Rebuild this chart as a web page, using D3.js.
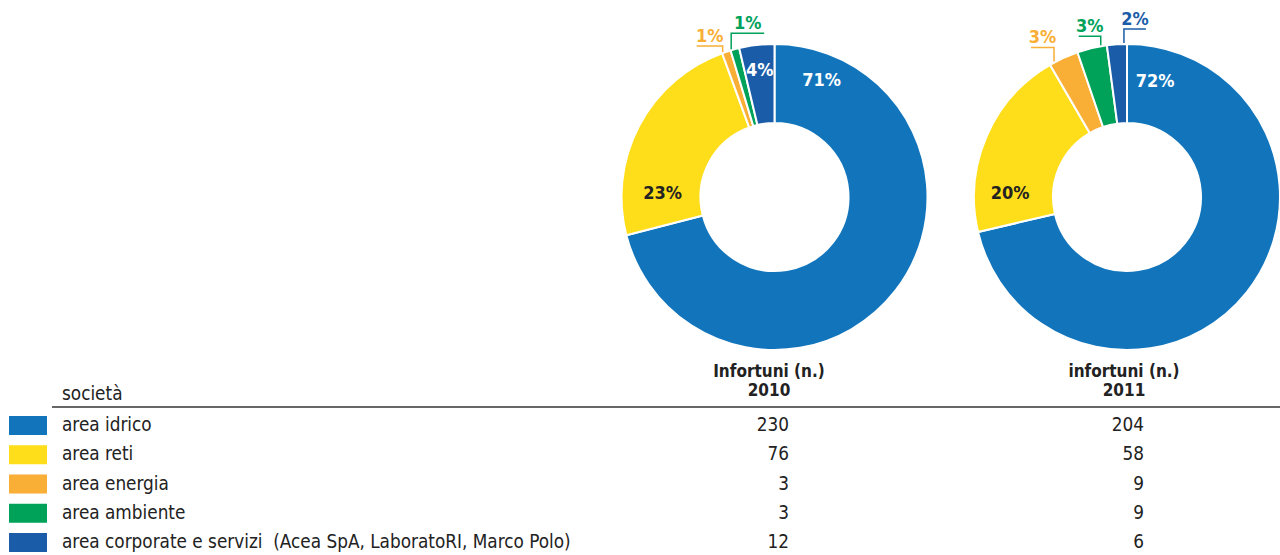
<!DOCTYPE html>
<html>
<head>
<meta charset="utf-8">
<script src="https://cdn.jsdelivr.net/npm/d3@7"></script>
<style>
  body { margin: 0; background: #fff; }
  svg { display: block; font-family: "DejaVu Sans Condensed", "Liberation Sans Narrow", sans-serif; }
  text { white-space: pre; }
</style>
</head>
<body>
<svg width="1280" height="555"></svg>
<script>

const categories = ['area idrico', 'area reti', 'area energia', 'area ambiente',
                    'area corporate e servizi  (Acea SpA, LaboratoRI, Marco Polo)'];
const colors = ['#1275bc', '#fedd1a', '#f9ae35', '#00a25a', '#1a5ca8'];
const years = ['2010', '2011'];
const headers = ['Infortuni (n.)', 'infortuni (n.)'];
const values2010 = [230, 76, 3, 3, 12];
const values2011 = [204, 58, 9, 9, 6];
const pct2010 = ['71%', '23%', '1%', '1%', '4%'];
const pct2011 = ['72%', '20%', '3%', '3%', '2%'];

// how each percentage is placed: inside the ring at an angle, or outside with a leader
// (at = where along the slice the leader starts, 0..1)
const labelStyle2010 = [
  {type: 'in', angle: 22, r: 126, fill: '#fff'},
  {type: 'in', angle: -88, r: 112, fill: '#222'},
  {type: 'out', at: 0.1, side: -1, rise: 6, len: 26},
  {type: 'out', at: 0.1, side: 1, rise: 16, len: 33},
  {type: 'in', angle: null, r: 128, fill: '#fff'}
];
const labelStyle2011 = [
  {type: 'in', angle: 13.5, r: 120, fill: '#fff'},
  {type: 'in', angle: -88, r: 117, fill: '#222'},
  {type: 'out', at: 0.17, side: -1, rise: 14, len: 23},
  {type: 'out', at: 0.8, side: -1, rise: 9, len: 22},
  {type: 'out', at: 0.85, side: 1, rise: 14, len: 22}
];

const svg = d3.select('svg');

const outerR = 153, innerR = 74;
const centerX = d3.scalePoint().domain(years).range([774.5, 1127]);
const centerY = 197;

const pie = d3.pie().sort(null).value(d => d);
const arc = d3.arc().innerRadius(innerR).outerRadius(outerR);

function drawDonut(year, values, pcts, styles) {
  let g = svg.append('g')
             .attr('transform', 'translate(' + centerX(year) + ',' + centerY + ')');
  let arcs = pie(values);

  g.selectAll('path')
   .data(arcs)
   .enter()
   .append('path')
   .attr('d', arc)
   .attr('fill', (d, i) => colors[i])
   .attr('stroke', '#fff')
   .attr('stroke-width', 2);

  arcs.forEach(function(d, i) {
    let s = styles[i];
    if (s.type == 'in') {
      let a = s.angle == null ? (d.startAngle + d.endAngle) / 2 : s.angle * Math.PI / 180;
      g.append('text')
       .attr('x', s.r * Math.sin(a))
       .attr('y', -s.r * Math.cos(a))
       .attr('dy', '0.35em')
       .attr('text-anchor', 'middle')
       .attr('fill', s.fill)
       .style('font-weight', 'bold')
       .style('font-size', '18px')
       .text(pcts[i]);
    } else {
      let a = d.startAngle + s.at * (d.endAngle - d.startAngle);
      let x0 = (outerR + 1) * Math.sin(a);
      let y0 = -(outerR + 1) * Math.cos(a);
      let y1 = y0 - s.rise;
      let x1 = x0 + s.side * s.len;
      g.append('path')
       .attr('d', 'M' + x0 + ',' + y0 + 'V' + y1 + 'H' + x1)
       .attr('fill', 'none')
       .attr('stroke', colors[i])
       .attr('stroke-width', 1.5);
      g.append('text')
       .attr('x', (x0 + x1) / 2)
       .attr('y', y1 - 4)
       .attr('text-anchor', 'middle')
       .attr('fill', colors[i])
       .style('font-weight', 'bold')
       .style('font-size', '18px')
       .text(pcts[i]);
    }
  });
}

drawDonut('2010', values2010, pct2010, labelStyle2010);
drawDonut('2011', values2011, pct2011, labelStyle2011);

// table below the donuts
const rowY = d3.scalePoint().domain(categories).range([424, 541]);
const colRight = d3.scalePoint().domain(years).range([789, 1144]);
const colMid = d3.scalePoint().domain(years).range([769, 1124]);

svg.append('text')
   .attr('x', 62)
   .attr('y', 400)
   .attr('fill', '#222')
   .style('font-size', '18.8px')
   .text('società');

years.forEach(function(y, i) {
  svg.append('text')
     .attr('x', colMid(y))
     .attr('y', 377)
     .attr('text-anchor', 'middle')
     .attr('fill', '#222')
     .style('font-weight', 'bold')
     .style('font-size', '17px')
     .text(headers[i]);
  svg.append('text')
     .attr('x', colMid(y))
     .attr('y', 396)
     .attr('text-anchor', 'middle')
     .attr('fill', '#222')
     .style('font-weight', 'bold')
     .style('font-size', '17px')
     .text(y);
});

svg.append('line')
   .attr('x1', 52).attr('x2', 1280)
   .attr('y1', 407).attr('y2', 407)
   .attr('stroke', '#333')
   .attr('stroke-width', 1.5);

const rows = svg.selectAll('g.row')
                .data(categories)
                .enter()
                .append('g')
                .attr('class', 'row')
                .attr('transform', d => 'translate(0,' + rowY(d) + ')');

rows.append('rect')
    .attr('x', 9).attr('y', -8)
    .attr('width', 38).attr('height', 19)
    .attr('fill', (d, i) => colors[i]);

rows.append('text')
    .attr('x', 62)
    .attr('y', 7)
    .attr('fill', '#222')
    .style('font-size', '18.8px')
    .text(d => d);

rows.append('text')
    .attr('x', colRight('2010'))
    .attr('y', 7)
    .attr('text-anchor', 'end')
    .attr('fill', '#222')
    .style('font-size', '18.8px')
    .text((d, i) => values2010[i]);

rows.append('text')
    .attr('x', colRight('2011'))
    .attr('y', 7)
    .attr('text-anchor', 'end')
    .attr('fill', '#222')
    .style('font-size', '18.8px')
    .text((d, i) => values2011[i]);

</script>
</body>
</html>
